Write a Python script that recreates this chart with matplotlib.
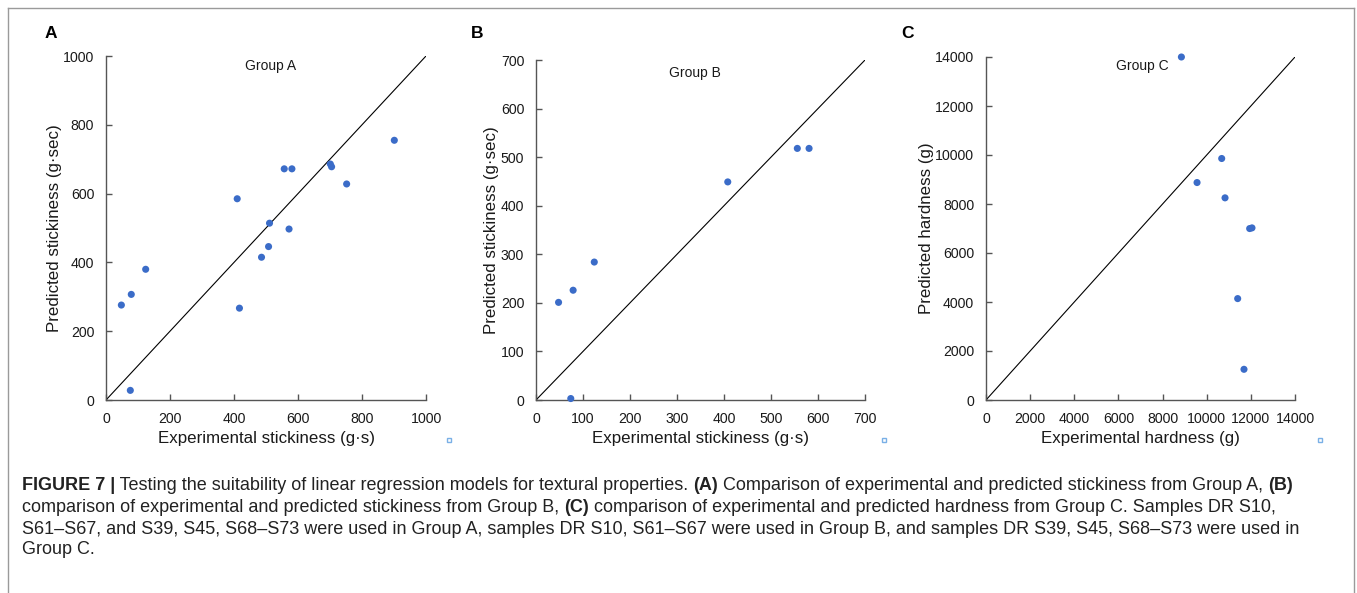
import matplotlib
matplotlib.use("Agg")
import matplotlib.pyplot as plt
from matplotlib.lines import Line2D

plt.rcParams["font.family"] = ["Liberation Sans", "DejaVu Sans"]

# ---- data ----
a_exp = [48, 79, 124, 76, 410, 417, 486, 508, 511, 557, 581, 572, 701, 705, 752, 901]
a_pred = [276, 307, 380, 28, 585, 267, 415, 446, 514, 672, 672, 497, 686, 678, 628, 755]

b_exp = [48, 79, 124, 74, 408, 556, 581]
b_pred = [201, 226, 284, 3, 449, 518, 518]

c_exp = [8853, 9562, 10679, 10830, 11946, 12051, 11403, 11689]
c_pred = [14000, 8876, 9857, 8251, 6998, 7025, 4139, 1253]

a_ticks = [0, 200, 400, 600, 800, 1000]
b_ticks = [0, 100, 200, 300, 400, 500, 600, 700]
c_ticks = [0, 2000, 4000, 6000, 8000, 10000, 12000, 14000]

W, H = 1357, 593
DOT = "#3b6cc8"
AX_GREY = "#555555"

fig = plt.figure(figsize=(W / 100, H / 100), dpi=100)


def px_axes(left, top, right, bottom):
    return fig.add_axes([left / W, 1 - bottom / H, (right - left) / W, (bottom - top) / H])


def style_panel(ax, x, y, ticks, lim, xlabel, ylabel, group, gpos, letter, letter_x):
    ax.scatter(x, y, s=26, color=DOT, edgecolors="none", zorder=3, clip_on=False)
    ax.plot([0, lim], [0, lim], color="black", lw=0.8, zorder=2)
    ax.set_xlim(0, lim)
    ax.set_ylim(0, lim)
    ax.set_xticks(ticks)
    ax.set_yticks(ticks)
    for s in ("top", "right"):
        ax.spines[s].set_visible(False)
    for s in ("left", "bottom"):
        ax.spines[s].set_color(AX_GREY)
        ax.spines[s].set_linewidth(1.0)
    ax.tick_params(direction="in", length=4.5, width=1.0, color=AX_GREY,
                   labelsize=10.2, labelcolor="#1a1a1a", pad=8.5)
    ax.set_xlabel(xlabel, fontsize=12.2, color="#1a1a1a", labelpad=3.5)
    ax.set_ylabel(ylabel, fontsize=12.2, color="#1a1a1a", labelpad=1)
    ax.text(gpos[0], gpos[1], group, fontsize=10, ha="center", va="center", color="#1a1a1a")
    fig.text(letter_x / W, 1 - 34 / H, letter, fontsize=12.5, fontweight="bold",
             ha="left", va="center", color="black")


ax_a = px_axes(106, 56, 426, 400)
style_panel(ax_a, a_exp, a_pred, a_ticks, 1000,
            "Experimental stickiness (g\u00b7s)", "Predicted stickiness (g\u00b7sec)",
            "Group A", (515, 972), "A", 45)

ax_b = px_axes(536, 60, 865, 400)
style_panel(ax_b, b_exp, b_pred, b_ticks, 700,
            "Experimental stickiness (g\u00b7s)", "Predicted stickiness (g\u00b7sec)",
            "Group B", (339, 673), "B", 471)

ax_c = px_axes(986, 57, 1295, 400)
style_panel(ax_c, c_exp, c_pred, c_ticks, 14000,
            "Experimental hardness (g)", "Predicted hardness (g)",
            "Group C", (7090, 13615), "C", 901)

# frame around the figure
frame = dict(color="#9a9a9a", lw=1.0, transform=fig.transFigure)
fig.add_artist(Line2D([7.5 / W, 1354 / W], [1 - 8 / H, 1 - 8 / H], **frame))
fig.add_artist(Line2D([7.5 / W, 7.5 / W], [1 - 8 / H, 0], **frame))
fig.add_artist(Line2D([1354 / W, 1354 / W], [1 - 8 / H, 0], **frame))

# little blue squares left over from the source figure
for sx in (449, 884, 1320):
    fig.add_artist(Line2D([sx / W], [1 - 440 / H], marker="s", markersize=3.5,
                          markerfacecolor="white", markeredgecolor="#7ab0e6",
                          markeredgewidth=1.0, transform=fig.transFigure))

# caption with bold fragments
caption = [
    [("FIGURE 7 |", True), (" Testing the suitability of linear regression models for textural properties. ", False),
     ("(A)", True), (" Comparison of experimental and predicted stickiness from Group A, ", False), ("(B)", True)],
    [("comparison of experimental and predicted stickiness from Group B, ", False), ("(C)", True),
     (" comparison of experimental and predicted hardness from Group C. Samples DR S10,", False)],
    [("S61\u2013S67, and S39, S45, S68\u2013S73 were used in Group A, samples DR S10, S61\u2013S67 were used in Group B, "
      "and samples DR S39, S45, S68\u2013S73 were used in", False)],
    [("Group C.", False)],
]
line_y = [485, 507, 529, 550]

renderer = fig.canvas.get_renderer()
for frags, ly in zip(caption, line_y):
    x = 22
    for txt, bold in frags:
        t = fig.text(x / W, 1 - ly / H, txt, fontsize=13.0,
                     fontweight="bold" if bold else "normal",
                     ha="left", va="center", color="#222222")
        bb = t.get_window_extent(renderer=renderer)
        x += bb.width

fig.savefig("out.png", dpi=100)
